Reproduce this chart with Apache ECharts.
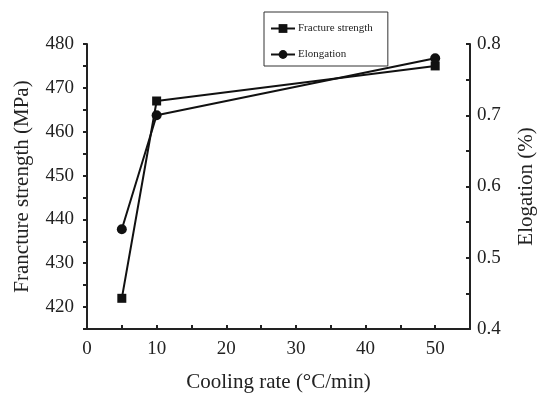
<!DOCTYPE html>
<html><head><meta charset="utf-8">
<script src="https://cdn.jsdelivr.net/npm/echarts@6/dist/echarts.min.js"></script>
<style>html,body{margin:0;padding:0;background:#fff}#c{width:538px;height:394px}</style>
</head><body><div id="c"></div>
<script>
var coolingRate = [5, 10, 50];
var fractureStrength = [422, 467, 475];
var elongation = [0.54, 0.70, 0.78];
var seriesNames = ['Fracture strength', 'Elongation'];

var font = 'Liberation Serif, Times New Roman, serif';
var chart = echarts.init(document.getElementById('c'));
chart.setOption({
  animation: false,
  backgroundColor: '#fff',
  grid: {left: 87, right: 68, top: 44, bottom: 65, containLabel: false, outerBoundsMode: 'none'},
  legend: {
    orient: 'vertical', left: 264, top: 12,
    borderColor: '#333', borderWidth: 1,
    padding: [11, 15, 6, 6],
    itemGap: 15, itemWidth: 24, itemHeight: 11,
    textStyle: {fontFamily: font, fontSize: 11, color: '#222', padding: [0, 0, 0, -2]},
    data: seriesNames
  },
  xAxis: {
    type: 'value', min: 0, max: 55, interval: 5,
    name: 'Cooling rate (°C/min)', nameLocation: 'middle', nameGap: 43,
    nameTextStyle: {fontFamily: font, fontSize: 21, color: '#222'},
    axisLine: {lineStyle: {color: '#222', width: 2}},
    axisTick: {inside: true, length: 4, lineStyle: {color: '#222', width: 2}},
    axisLabel: {fontFamily: font, fontSize: 19, color: '#222', margin: 11,
      formatter: function(v){ return (v % 10 === 0 && v <= 50) ? String(v) : ''; }},
    splitLine: {show: false}
  },
  yAxis: [{
    type: 'value', min: 415, max: 480, interval: 5,
    name: 'Francture strength (MPa)', nameLocation: 'middle', nameGap: 54, nameRotate: 90,
    nameTextStyle: {fontFamily: font, fontSize: 21, color: '#222'},
    axisLine: {show: true, lineStyle: {color: '#222', width: 2}},
    axisTick: {inside: false, length: 4, lineStyle: {color: '#222', width: 2}},
    axisLabel: {fontFamily: font, fontSize: 19, color: '#222', margin: 13,
      formatter: function(v){ return (v % 10 === 0) ? String(v) : ''; }},
    splitLine: {show: false}
  }, {
    type: 'value', min: 0.4, max: 0.8, interval: 0.05,
    name: 'Elogation (%)', nameLocation: 'middle', nameGap: 46, nameRotate: 90,
    nameTextStyle: {fontFamily: font, fontSize: 21, color: '#222'},
    axisLine: {show: true, lineStyle: {color: '#222', width: 2}},
    axisTick: {inside: true, length: 4, lineStyle: {color: '#222', width: 2}},
    axisLabel: {fontFamily: font, fontSize: 19, color: '#222', margin: 7,
      formatter: function(v){ var r = Math.round(v*100); return (r % 10 === 0) ? (r/100).toFixed(1) : ''; }},
    splitLine: {show: false}
  }],
  series: [{
    name: seriesNames[0], type: 'line', yAxisIndex: 0,
    data: coolingRate.map(function(x, i){ return [x, fractureStrength[i]]; }),
    symbol: 'rect', symbolSize: 9,
    lineStyle: {color: '#111', width: 2}, itemStyle: {color: '#111'}
  }, {
    name: seriesNames[1], type: 'line', yAxisIndex: 1,
    data: coolingRate.map(function(x, i){ return [x, elongation[i]]; }),
    symbol: 'circle', symbolSize: 10,
    lineStyle: {color: '#111', width: 2}, itemStyle: {color: '#111'}
  }]
});
</script></body></html>
